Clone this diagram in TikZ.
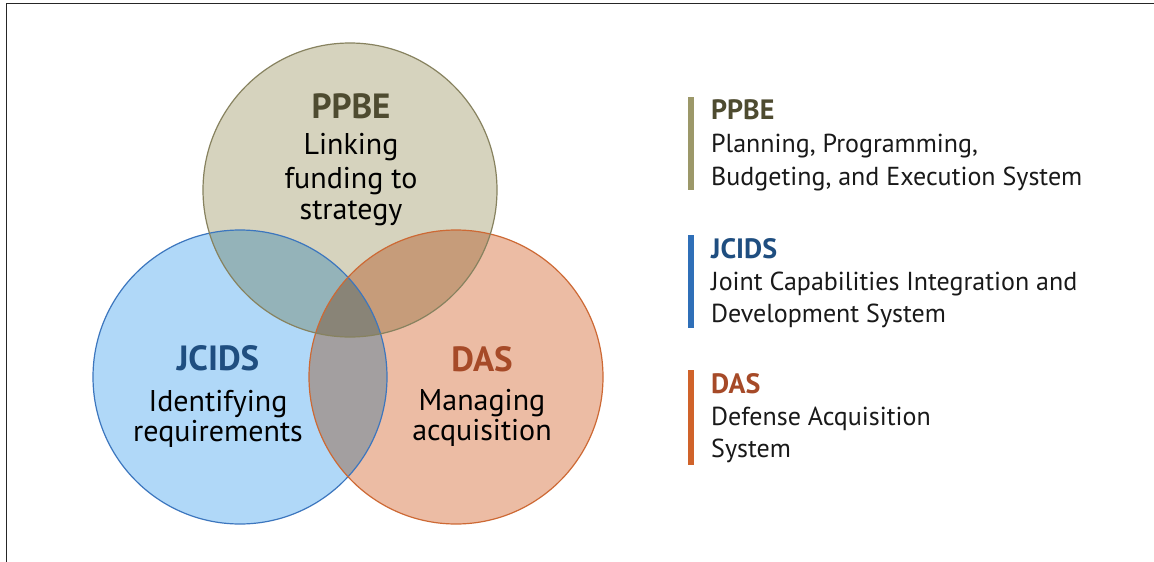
\documentclass[tikz,border=0pt]{standalone}
\usepackage{fontspec}
\setmainfont{PT Sans}
\definecolor{pFill}{RGB}{214,211,190}
\definecolor{jFill}{RGB}{176,216,248}
\definecolor{dFill}{RGB}{236,188,164}
\definecolor{pjFill}{RGB}{148,179,185}
\definecolor{pdFill}{RGB}{198,156,122}
\definecolor{jdFill}{RGB}{163,159,160}
\definecolor{pjdFill}{RGB}{137,132,119}
\definecolor{pLine}{RGB}{135,130,95}
\definecolor{jLine}{RGB}{60,118,190}
\definecolor{dLine}{RGB}{205,105,52}
\definecolor{pText}{RGB}{78,75,48}
\definecolor{jText}{RGB}{31,78,128}
\definecolor{dText}{RGB}{166,74,40}
\definecolor{pBar}{RGB}{156,152,105}
\definecolor{jBar}{RGB}{47,111,184}
\definecolor{dBar}{RGB}{208,99,42}
\tikzset{
  circhead/.style={anchor=base, font=\fontsize{35}{40}\selectfont\bfseries},
  circbody/.style={anchor=base, text=black, font=\fontsize{30}{34}\selectfont},
  leghead/.style={anchor=base west, inner sep=0pt, font=\fontsize{28}{32}\selectfont\bfseries},
  legbody/.style={anchor=base west, inner sep=0pt, text=black!90, font=\fontsize{26}{30}\selectfont},
  legbar/.style={line width=6pt},
  ring/.style={line width=1.2pt}
}
\begin{document}
\begin{tikzpicture}[x=1pt,y=-1pt]
\useasboundingbox (0,0) rectangle (1154,562);
\fill[white] (0,0) rectangle (1154,562);
% frame
\draw[line width=1.5pt, black!85] (6.5,562) -- (6.5,3.5) -- (1154,3.5);
% circle centres
\coordinate (P) at (350,190);
\coordinate (J) at (240,377);
\coordinate (D) at (456,377);
\def\R{147pt}
% fills
\fill[pFill] (P) circle (\R);
\fill[jFill] (J) circle (\R);
\fill[dFill] (D) circle (\R);
\begin{scope}
  \clip (P) circle (\R);
  \fill[pjFill] (J) circle (\R);
  \fill[pdFill] (D) circle (\R);
\end{scope}
\begin{scope}
  \clip (J) circle (\R);
  \clip (D) circle (\R);
  \fill[jdFill] (J) circle (\R);
  \clip (P) circle (\R);
  \fill[pjdFill] (J) circle (\R);
\end{scope}
% outlines
\draw[ring, jLine] (J) circle (\R);
\draw[ring, dLine] (D) circle (\R);
\draw[ring, pLine] (P) circle (\R);
% circle texts
\node[circhead, text=pText] (ph) at (351,118) {PPBE};
\node[circbody] (pb1) at (351,154) {Linking};
\node[circbody] (pb2) at (351,188) {funding to};
\node[circbody] (pb3) at (351,219) {strategy};
\node[circhead, text=jText] (jh) at (218,370) {JCIDS};
\node[circbody] (jb1) at (218,411) {Identifying};
\node[circbody] (jb2) at (218,441) {requirements};
\node[circhead, text=dText] (dh) at (482,371) {DAS};
\node[circbody] (db1) at (482,410) {Managing};
\node[circbody] (db2) at (482,440) {acquisition};
% legend
\coordinate (pbt) at (691,97); \coordinate (pbb) at (691,190);
\coordinate (jbt) at (691,235); \coordinate (jbb) at (691,328);
\coordinate (dbt) at (691,370); \coordinate (dbb) at (691,465);
\draw[legbar, pBar] (pbt) -- (pbb);
\draw[legbar, jBar] (jbt) -- (jbb);
\draw[legbar, dBar] (dbt) -- (dbb);
\node[leghead, text=pText] (lph) at (711,119) {PPBE};
\node[legbody] (lp1) at (711,152) {Planning, Programming,};
\node[legbody] (lp2) at (711,185) {Budgeting, and Execution System};
\node[leghead, text=jText] (ljh) at (711,258) {JCIDS};
\node[legbody] (lj1) at (711,290) {Joint Capabilities Integration and};
\node[legbody] (lj2) at (711,322) {Development System};
\node[leghead, text=dText] (ldh) at (711,393) {DAS};
\node[legbody] (ld1) at (711,425) {Defense Acquisition};
\node[legbody] (ld2) at (711,457) {System};
\end{tikzpicture}
\end{document}
